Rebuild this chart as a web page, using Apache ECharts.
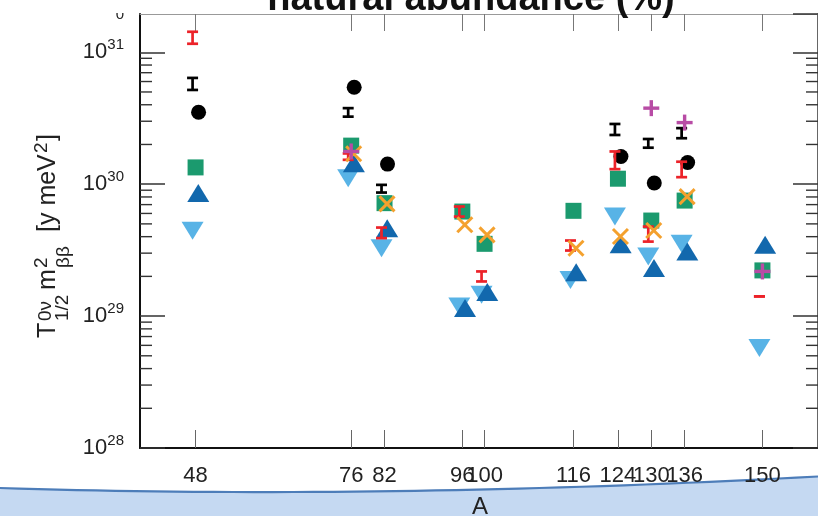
<!DOCTYPE html>
<html><head><meta charset="utf-8">
<script src="https://cdn.jsdelivr.net/npm/echarts@6/dist/echarts.min.js"></script>
<style>html,body{margin:0;padding:0;background:#fff}#c{width:818px;height:516px}</style>
</head><body><div id="c"></div>
<script>
// ---- data ----
const A = [48, 76, 82, 96, 100, 116, 124, 130, 136, 150];
const circleVals = [3.51e30, 5.43e30, 1.42e30, null, null, null, 1.62e30, 1.02e30, 1.46e30, null];
const squareVals = [1.34e30, 1.96e30, 7.18e29, 6.20e29, 3.53e29, 6.28e29, 1.10e30, 5.30e29, 7.51e29, 2.22e29];
const upTriVals = [8.59e29, 1.44e30, 4.64e29, 1.15e29, 1.52e29, 2.15e29, 3.51e29, 2.31e29, 3.09e29, 3.47e29];
const downTriVals = [4.43e29, 1.11e30, 3.27e29, 1.18e29, 1.45e29, 1.88e29, 5.68e29, 2.83e29, 3.53e29, 5.72e28];
const crossVals = [null, 1.70e30, 7.09e29, 4.92e29, 4.13e29, 3.27e29, 4.01e29, 4.45e29, 8.05e29, null];
const plusVals = [null, 1.77e30, null, null, null, null, null, 3.77e30, 2.93e30, 2.18e29];
const redLow = [1.16e31, 1.53e30, 3.90e29, 5.68e29, 1.83e29, 3.14e29, 1.30e30, 3.67e29, 1.13e30, 1.41e29];
const redHigh = [1.43e31, 1.71e30, 4.69e29, 6.77e29, 2.18e29, 3.74e29, 1.77e30, 4.77e29, 1.48e30, 1.41e29];
const blackLow = [5.18e30, 3.25e30, 8.64e29, null, null, null, 2.36e30, 1.89e30, 2.23e30, null];
const blackHigh = [6.39e30, 3.77e30, 9.88e29, null, null, null, 2.86e30, 2.20e30, 2.66e30, null];
// axis ticks
const X_MIN = 38, X_MAX = 160;
const Y_MIN = 1e28, Y_MAX = 1.95e31;
const minorMantissas = [2, 3, 4, 5, 6, 7, 8, 9];
const minorDecades = [1e28, 1e29, 1e30, 1e31];

const FONT = "'Liberation Sans', Arial, Helvetica, sans-serif";
const C = {
  black: '#000000', red: '#ec2229', green: '#1b9a6e', blue: '#1268ad',
  light: '#58b3e6', orange: '#f4a12e', magenta: '#b84ca5'
};

function pairs(vals) {
  const out = [];
  vals.forEach((v, i) => { if (v != null) out.push([A[i], v]); });
  return out;
}
function ranges(lo, hi) {
  const out = [];
  lo.forEach((v, i) => { if (v != null) out.push([A[i], v, hi[i]]); });
  return out;
}
const minorTickVals = [];
minorDecades.forEach(d => minorMantissas.forEach(m => { const v = m * d; if (v < Y_MAX) minorTickVals.push([X_MIN, v]); }));

// decorative band outline (quadratic curve sampled)
const bandP0 = [0, 488], bandCP = [380, 500], bandP2 = [818, 476.5];
const bandCurve = [];
for (let i = 0; i <= 40; i++) {
  const t = i / 40, u = 1 - t;
  bandCurve.push([u * u * bandP0[0] + 2 * u * t * bandCP[0] + t * t * bandP2[0],
                  u * u * bandP0[1] + 2 * u * t * bandCP[1] + t * t * bandP2[1]]);
}
const bandPoly = bandCurve.concat([[818, 516], [0, 516]]);

function errorBar(color, dx) {
  return {
    type: 'custom', xAxisIndex: 0, yAxisIndex: 0, z: 3,
    encode: { x: 0, y: [1, 2] },
    renderItem: (params, api) => {
      const lo = api.coord([api.value(0), api.value(1)]);
      const hi = api.coord([api.value(0), api.value(2)]);
      const x = lo[0] + dx, w = 5.5;
      const st = { stroke: color, lineWidth: 2.7, fill: null };
      return { type: 'group', children: [
        { type: 'line', shape: { x1: x, y1: lo[1], x2: x, y2: hi[1] }, style: st },
        { type: 'line', shape: { x1: x - w, y1: lo[1], x2: x + w, y2: lo[1] }, style: st },
        { type: 'line', shape: { x1: x - w, y1: hi[1], x2: x + w, y2: hi[1] }, style: st }
      ]};
    }
  };
}
function glyphSeries(kind, color, dx) {
  return {
    type: 'custom', xAxisIndex: 0, yAxisIndex: 0, z: 4,
    renderItem: (params, api) => {
      const p = api.coord([api.value(0), api.value(1)]);
      const x = p[0] + dx, y = p[1];
      const st = { stroke: color, lineWidth: kind === 'x' ? 3 : 3.4, fill: null };
      const h = kind === 'x' ? 7.5 : 8;
      const ch = kind === 'x'
        ? [{ type: 'line', shape: { x1: x - h, y1: y - h, x2: x + h, y2: y + h }, style: st },
           { type: 'line', shape: { x1: x - h, y1: y + h, x2: x + h, y2: y - h }, style: st }]
        : [{ type: 'line', shape: { x1: x - h, y1: y, x2: x + h, y2: y }, style: st },
           { type: 'line', shape: { x1: x, y1: y - h, x2: x, y2: y + h }, style: st }];
      return { type: 'group', children: ch };
    }
  };
}

const chart = echarts.init(document.getElementById('c'), null, { renderer: 'canvas' });

const redSeries = errorBar(C.red, -3); redSeries.data = ranges(redLow, redHigh);
const blackSeries = errorBar(C.black, -3); blackSeries.data = ranges(blackLow, blackHigh);
const crossSeries = glyphSeries('x', C.orange, 2.5); crossSeries.data = pairs(crossVals);
const plusSeries = glyphSeries('+', C.magenta, 0); plusSeries.data = pairs(plusVals);

const LBL = { fontFamily: FONT, fill: '#222', textVerticalAlign: 'middle' };
function lbl(text, size, lx, ly) {
  return { type: 'text', x: lx, y: ly, style: Object.assign({ text: text, fontSize: size }, LBL) };
}

const option = {
  animation: false,
  backgroundColor: '#ffffff',
  grid: { left: 140, top: 14, width: 679, height: 434 },
  xAxis: [
    {
      type: 'value', position: 'bottom', min: X_MIN, max: X_MAX,
      axisLine: { show: true, lineStyle: { color: '#111', width: 2 } },
      axisTick: { show: true, inside: true, length: 18, customValues: A, lineStyle: { color: '#666', width: 1 } },
      axisLabel: { show: true, customValues: A, margin: 17, fontSize: 22, fontFamily: FONT, color: '#222' },
      splitLine: { show: false }
    },
    {
      type: 'value', position: 'top', min: X_MIN, max: X_MAX,
      axisLine: { show: true, lineStyle: { color: '#999', width: 1 } },
      axisTick: { show: true, inside: true, length: 17, customValues: A, lineStyle: { color: '#777', width: 1 } },
      axisLabel: { show: false },
      splitLine: { show: false }
    }
  ],
  yAxis: [
    {
      type: 'log', logBase: 10, position: 'left', min: Y_MIN, max: Y_MAX,
      axisLine: { show: true, lineStyle: { color: '#111', width: 2 } },
      axisTick: { show: true, inside: true, length: 25, lineStyle: { color: '#333', width: 1.5 } },
      axisLabel: {
        show: true, margin: 16, showMaxLabel: false,
        formatter: v => {
          const e = Math.log10(v);
          if (Math.abs(e - Math.round(e)) > 1e-6) return '';
          return '{b|10}{s|' + Math.round(e) + '}';
        },
        rich: {
          b: { fontSize: 22, fontFamily: FONT, color: '#222' },
          s: { fontSize: 15, fontFamily: FONT, color: '#222', padding: [0, 0, 14, 0] }
        }
      },
      splitLine: { show: false }
    },
    {
      type: 'log', logBase: 10, position: 'right', min: Y_MIN, max: Y_MAX,
      axisLine: { show: true, lineStyle: { color: '#333', width: 1.5 } },
      axisTick: { show: true, inside: true, length: 25, lineStyle: { color: '#333', width: 1.5 } },
      axisLabel: { show: false },
      splitLine: { show: false }
    }
  ],
  series: [
    {
      type: 'custom', silent: true, xAxisIndex: 0, yAxisIndex: 0, z: 1,
      data: minorTickVals,
      renderItem: (params, api) => {
        const p = api.coord([X_MIN, api.value(1)]);
        const q = api.coord([X_MAX, api.value(1)]);
        const st = { stroke: '#333', lineWidth: 1.4 };
        return { type: 'group', children: [
          { type: 'line', shape: { x1: p[0], y1: p[1], x2: p[0] + 12, y2: p[1] }, style: st },
          { type: 'line', shape: { x1: q[0] - 12, y1: q[1], x2: q[0], y2: q[1] }, style: st }
        ]};
      }
    },
    { type: 'scatter', name: 'down', data: pairs(downTriVals), symbol: 'triangle', symbolRotate: 180,
      symbolSize: [22, 18], symbolOffset: [-3, 0], itemStyle: { color: C.light, opacity: 1 }, z: 2 },
    { type: 'scatter', name: 'up', data: pairs(upTriVals), symbol: 'triangle',
      symbolSize: [22, 18], symbolOffset: [2.7, 0], itemStyle: { color: C.blue, opacity: 1 }, z: 2 },
    { type: 'scatter', name: 'square', data: pairs(squareVals), symbol: 'rect',
      symbolSize: 16, itemStyle: { color: C.green, opacity: 1 }, z: 2 },
    { type: 'scatter', name: 'circle', data: pairs(circleVals), symbol: 'circle',
      symbolSize: 15, symbolOffset: [3, 0], itemStyle: { color: C.black, opacity: 1 }, z: 2 },
    redSeries, blackSeries, crossSeries, plusSeries
  ],
  graphic: [
    { type: 'polygon', z: -10, silent: true,
      shape: { points: bandPoly },
      style: { fill: '#c5d9f2', stroke: null } },
    { type: 'polyline', z: -9, silent: true,
      shape: { points: bandCurve },
      style: { stroke: '#4d7db9', lineWidth: 2.2, fill: null } },
    { type: 'text', x: 480, y: 507, z: 5, silent: true,
      style: { text: 'A', fontSize: 24, fontFamily: FONT, fill: '#222', textAlign: 'center', textVerticalAlign: 'middle' } },
    { type: 'text', x: 471, y: -0.5, z: 5, silent: true,
      style: { text: 'natural abundance (%)', fontSize: 38, fontWeight: 'bold', fontFamily: FONT, fill: '#111', textAlign: 'center', textVerticalAlign: 'middle' } },
    { type: 'text', x: 120, y: 14.8, z: 5, silent: true,
      style: { text: '0', fontSize: 15, fontFamily: FONT, fill: '#222', textAlign: 'center', textVerticalAlign: 'middle' } },
    { type: 'rect', z: 6, silent: true, shape: { x: 100, y: 0, width: 36, height: 13 }, style: { fill: '#ffffff' } },
    { type: 'group', x: 0, y: 340, rotation: Math.PI / 2, silent: true, children: [
      lbl('T', 25, 2, 48),
      lbl('0ν', 19, 19, 45.5),
      lbl('1/2', 19, 19, 62.5),
      lbl('m', 25, 50, 48),
      lbl('2', 19, 72, 42),
      lbl('ββ', 19, 72, 64),
      lbl('[y meV', 25, 108, 48),
      lbl('2', 19, 187, 42),
      lbl(']', 25, 199, 48)
    ]}
  ]
};
chart.setOption(option);
</script>
</body></html>
